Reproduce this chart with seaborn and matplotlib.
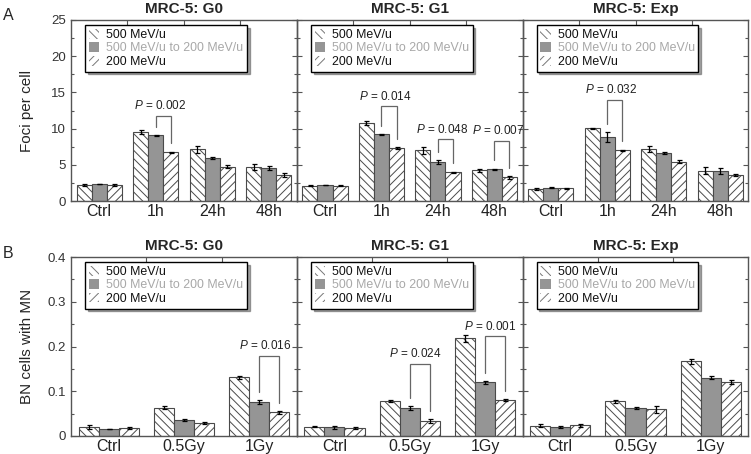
import numpy as np
import pandas as pd
import matplotlib
matplotlib.use("Agg")
import matplotlib.pyplot as plt
import matplotlib.patches as mpatches
from matplotlib.container import BarContainer
import seaborn as sns

sns.set_style("ticks")
plt.rcParams['font.family'] = ['Liberation Sans', 'DejaVu Sans']
plt.rcParams['mathtext.fontset'] = 'custom'
plt.rcParams['mathtext.rm'] = 'Liberation Sans'
plt.rcParams['mathtext.it'] = 'Liberation Sans:italic'
plt.rcParams['hatch.linewidth'] = 0.7

# ---------------- data ----------------
series = ["500 MeV/u", "500 MeV/u to 200 MeV/u", "200 MeV/u"]
panel_titles = ["MRC-5: G0", "MRC-5: G1", "MRC-5: Exp"]

foci_cats = ["Ctrl", "1h", "24h", "48h"]
foci_g0_500 = [2.2, 9.57, 7.14, 4.70]
foci_g0_mix = [2.35, 9.07, 5.94, 4.56]
foci_g0_200 = [2.2, 6.72, 4.74, 3.55]
foci_g0_err_500 = [0.10, 0.25, 0.50, 0.45]
foci_g0_err_mix = [0.05, 0.08, 0.20, 0.30]
foci_g0_err_200 = [0.10, 0.10, 0.20, 0.25]

foci_g1_500 = [2.12, 10.73, 7.00, 4.24]
foci_g1_mix = [2.20, 9.20, 5.39, 4.37]
foci_g1_200 = [2.12, 7.27, 3.96, 3.27]
foci_g1_err_500 = [0.05, 0.30, 0.45, 0.20]
foci_g1_err_mix = [0.05, 0.08, 0.25, 0.10]
foci_g1_err_200 = [0.10, 0.12, 0.10, 0.20]

foci_exp_500 = [1.66, 10.04, 7.18, 4.19]
foci_exp_mix = [1.84, 8.80, 6.63, 4.10]
foci_exp_200 = [1.75, 7.00, 5.43, 3.64]
foci_exp_err_500 = [0.08, 0.10, 0.35, 0.50]
foci_exp_err_mix = [0.08, 0.70, 0.15, 0.40]
foci_exp_err_200 = [0.08, 0.10, 0.20, 0.12]

mn_cats = ["Ctrl", "0.5Gy", "1Gy"]
mn_g0_500 = [0.020, 0.063, 0.131]
mn_g0_mix = [0.0156, 0.036, 0.076]
mn_g0_200 = [0.0186, 0.029, 0.053]
mn_g0_err_500 = [0.004, 0.003, 0.003]
mn_g0_err_mix = [0.001, 0.002, 0.004]
mn_g0_err_200 = [0.002, 0.003, 0.003]

mn_g1_500 = [0.021, 0.079, 0.218]
mn_g1_mix = [0.019, 0.062, 0.120]
mn_g1_200 = [0.017, 0.033, 0.080]
mn_g1_err_500 = [0.002, 0.002, 0.007]
mn_g1_err_mix = [0.003, 0.005, 0.003]
mn_g1_err_200 = [0.002, 0.004, 0.002]

mn_exp_500 = [0.023, 0.0775, 0.167]
mn_exp_mix = [0.020, 0.0626, 0.130]
mn_exp_200 = [0.024, 0.060, 0.121]
mn_exp_err_500 = [0.003, 0.003, 0.006]
mn_exp_err_mix = [0.003, 0.003, 0.003]
mn_exp_err_200 = [0.003, 0.008, 0.004]

# significance brackets: (row, col, category index, bracket top, label)
brackets = [
    (0, 0, 1, 11.74, "0.002"),
    (0, 1, 1, 13.10, "0.014"),
    (0, 1, 2, 8.50, "0.048"),
    (0, 1, 3, 8.30, "0.007"),
    (0, 2, 1, 13.95, "0.032"),
    (1, 0, 2, 0.179, "0.016"),
    (1, 1, 1, 0.162, "0.024"),
    (1, 1, 2, 0.223, "0.001"),
]

top_rows = [
    (foci_g0_500, foci_g0_mix, foci_g0_200, foci_g0_err_500, foci_g0_err_mix, foci_g0_err_200),
    (foci_g1_500, foci_g1_mix, foci_g1_200, foci_g1_err_500, foci_g1_err_mix, foci_g1_err_200),
    (foci_exp_500, foci_exp_mix, foci_exp_200, foci_exp_err_500, foci_exp_err_mix, foci_exp_err_200),
]
bot_rows = [
    (mn_g0_500, mn_g0_mix, mn_g0_200, mn_g0_err_500, mn_g0_err_mix, mn_g0_err_200),
    (mn_g1_500, mn_g1_mix, mn_g1_200, mn_g1_err_500, mn_g1_err_mix, mn_g1_err_200),
    (mn_exp_500, mn_exp_mix, mn_exp_200, mn_exp_err_500, mn_exp_err_mix, mn_exp_err_200),
]

# ---------------- styling ----------------
fills = ["white", "#959595", "white"]
hatches = ["\\\\\\\\", "", "////"]
edge = "#4a4a4a"
spine_c = "#555555"

W, H = 751, 454
fig = plt.figure(figsize=(W / 100, H / 100), dpi=100)

left_px = 71
panel_w = 225.8
rows_px = [(20, 201), (257, 436)]


def make_ax(r, c):
    t, b = rows_px[r]
    x0 = (left_px + c * panel_w) / W
    return fig.add_axes([x0, 1 - b / H, panel_w / W, (b - t) / H])


for r, (cats, data_rows, ylim, yticks, minor) in enumerate([
    (foci_cats, top_rows, 25, [0, 5, 10, 15, 20, 25], 2.5),
    (mn_cats, bot_rows, 0.4, [0, 0.1, 0.2, 0.3, 0.4], 0.05),
]):
    for c in range(3):
        ax = make_ax(r, c)
        ax.patch.set_alpha(0)
        v500, vmix, v200, e500, emix, e200 = data_rows[c]
        df = pd.DataFrame({
            "cat": cats * 3,
            "series": [series[0]] * len(cats) + [series[1]] * len(cats) + [series[2]] * len(cats),
            "val": list(v500) + list(vmix) + list(v200),
        })
        sns.barplot(data=df, x="cat", y="val", hue="series", order=cats,
                    hue_order=series, palette=fills, errorbar=None,
                    edgecolor=edge, linewidth=0.8, ax=ax, legend=False)
        errs = [e500, emix, e200]
        bar_conts = [cn for cn in ax.containers if isinstance(cn, BarContainer)]
        centers = {}
        for si, cont in enumerate(bar_conts):
            xs, ys = [], []
            for p in cont.patches:
                p.set_hatch(hatches[si])
                p.set_edgecolor(edge)
                xs.append(p.get_x() + p.get_width() / 2)
                ys.append(p.get_height())
            centers[si] = (xs, ys)
        for si in range(3):
            xs, ys = centers[si]
            ax.errorbar(xs, ys, yerr=errs[si], fmt="none", ecolor="black",
                        elinewidth=0.9, capsize=1.8, capthick=0.9, zorder=5)
        ax.set_ylim(0, ylim)
        ax.set_xlim(-0.5, len(cats) - 0.5)
        ax.set_yticks(yticks)
        ax.set_yticks(np.arange(0, ylim + 1e-9, minor), minor=True)
        ax.set_xticks(np.arange(0.5, len(cats) - 0.5, 1.0), minor=True)
        ax.tick_params(axis="y", which="both", direction="in", left=True, right=True,
                       color=spine_c, width=0.8)
        ax.tick_params(axis="y", which="major", length=3.5)
        ax.tick_params(axis="y", which="minor", length=2)
        ax.tick_params(axis="x", which="major", length=0, labelsize=11.5, pad=2)
        ax.tick_params(axis="x", which="minor", direction="in", top=True, bottom=False,
                       length=3.5, color=spine_c, width=0.8)
        ax.tick_params(axis="y", labelsize=9.5, pad=3.5)
        for s in ax.spines.values():
            s.set_color(spine_c)
            s.set_linewidth(1.0)
        ax.set_xlabel("")
        if c == 0:
            if r == 0:
                ax.set_yticklabels([str(v) for v in yticks])
                ax.set_ylabel("Foci per cell", fontsize=11)
            else:
                ax.set_yticklabels(["0"] + [f"{v:.1f}" for v in yticks[1:]])
                ax.set_ylabel("BN cells with MN", fontsize=11)
            ax.yaxis.set_label_coords(-0.165, 0.5)
            for lab in ax.get_yticklabels():
                lab.set_color("#333333")
        else:
            ax.set_yticklabels([])
            ax.set_ylabel("")
        for lab in ax.get_xticklabels():
            lab.set_color("#222222")
        ax.set_title(panel_titles[c], fontsize=11, fontweight="bold", pad=5)

        # legend
        handles = [
            mpatches.Patch(facecolor="white", edgecolor="#777777", hatch="\\\\\\\\", linewidth=0),
            mpatches.Patch(facecolor=fills[1], edgecolor=fills[1], linewidth=0),
            mpatches.Patch(facecolor="white", edgecolor="#777777", hatch="////", linewidth=0),
        ]
        leg = ax.legend(handles, series, loc="upper left", bbox_to_anchor=(0.062, 0.972),
                        fontsize=8.9, frameon=True, fancybox=False, shadow=True,
                        edgecolor="black", framealpha=1, handlelength=0.85,
                        handleheight=0.85, handletextpad=0.55, labelspacing=0.1,
                        borderpad=0.3, borderaxespad=0)
        leg.get_frame().set_linewidth(1.0)
        for i, t in enumerate(leg.get_texts()):
            t.set_color("#a8a8a8" if i == 1 else "#111111")

        # brackets
        gap = 0.045 * ylim
        for (br, bc, ci, ytop, txt) in brackets:
            if br != r or bc != c:
                continue
            xl = centers[1][0][ci]
            xr = centers[2][0][ci]
            yl = centers[1][1][ci] + errs[1][ci] + gap
            yr = centers[2][1][ci] + errs[2][ci] + gap
            ax.plot([xl, xl, xr, xr], [yl, ytop, ytop, yr], color="#666666",
                    lw=0.9, zorder=6, solid_joinstyle="miter")
            ax.text((xl + xr) / 2 - 0.06, ytop + 0.02 * ylim, f"$P$ = {txt}",
                    ha="center", va="bottom", fontsize=8.5, color="#222222",
                    zorder=10, clip_on=False)

fig.text(8 / W, 1 - 15 / H, "A", fontsize=11.5, ha="center", va="center")
fig.text(8 / W, 1 - 253 / H, "B", fontsize=11.5, ha="center", va="center")

fig.savefig("out.png", dpi=100)
